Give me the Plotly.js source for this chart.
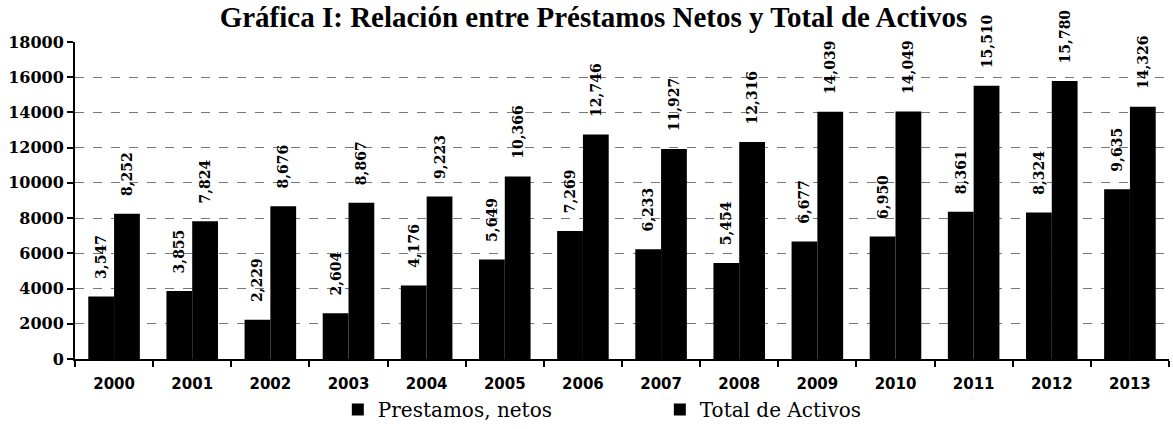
<!DOCTYPE html>
<html><head><meta charset="utf-8">
<script src="https://cdn.plot.ly/plotly-3.0.1.min.js"></script>
<style>html,body{margin:0;padding:0;background:#fff}</style>
</head><body>
<div id="chart" style="width:1173px;height:429px"></div>
<script>
const years = ["2000","2001","2002","2003","2004","2005","2006","2007","2008","2009","2010","2011","2012","2013"];
const prestamosNetos = [3547,3855,2229,2604,4176,5649,7269,6233,5454,6677,6950,8361,8324,9635];
const totalActivos = [8252,7824,8676,8867,9223,10366,12746,11927,12316,14039,14049,15510,15780,14326];
const yTicks = [0,2000,4000,6000,8000,10000,12000,14000,16000,18000];

const labelFont = {family:"DejaVu Serif, serif", size:14, color:"#000", weight:"bold"};
const common = {
  type:"bar",
  marker:{color:"#000", line:{color:"#000", width:0}},
  texttemplate:"\u00a0\u00a0\u00a0%{y:,}",
  textposition:"outside",
  textangle:-90,
  textfont:labelFont,
  constraintext:"none",
  cliponaxis:false,
  hoverinfo:"skip"
};
const data = [
  Object.assign({}, common, {x:years, y:prestamosNetos, name:"Prestamos, netos"}),
  Object.assign({}, common, {x:years, y:totalActivos, name:"Total de Activos"})
];
const layout = {
  width:1173, height:429,
  margin:{l:75, r:4, t:42, b:70, autoexpand:false},
  paper_bgcolor:"#fff", plot_bgcolor:"#fff",
  title:{text:"<b>Gráfica I: Relación entre Préstamos Netos y Total de Activos</b>",
    font:{family:"Liberation Serif, serif", size:29, color:"#000"},
    xref:"container", x:0.506, xanchor:"center", yref:"container", y:0.96, yanchor:"middle"},
  barmode:"group", bargap:0.34, bargroupgap:0,
  showlegend:true,
  legend:{orientation:"h", xref:"container", x:0.288, xanchor:"left", yref:"container", y:-0.014, yanchor:"bottom",
    font:{family:"DejaVu Serif, serif", size:20, color:"#000"},
    entrywidth:277, itemwidth:30, traceorder:"normal"},
  xaxis:{type:"category", showline:true, linecolor:"#000", linewidth:2,
    ticks:"outside", tickson:"boundaries", ticklen:6, tickcolor:"#000", tickwidth:2,
    ticklabelstandoff:10,
    tickfont:{family:"DejaVu Sans, sans-serif", size:15, color:"#000", weight:"bold"},
    showgrid:false, zeroline:false},
  yaxis:{range:[0,18000], tickvals:yTicks, ticktext:yTicks.map(String),
    showline:true, linecolor:"#000", linewidth:2,
    ticks:"outside", ticklen:6, tickcolor:"#000", tickwidth:2,
    tickfont:{family:"DejaVu Serif, serif", size:16, color:"#000", weight:"bold"},
    showgrid:true, gridcolor:"#777", gridwidth:1, griddash:"dash",
    zeroline:false}
};
Plotly.newPlot("chart", data, layout, {displayModeBar:false, staticPlot:true});
</script>
</body></html>
